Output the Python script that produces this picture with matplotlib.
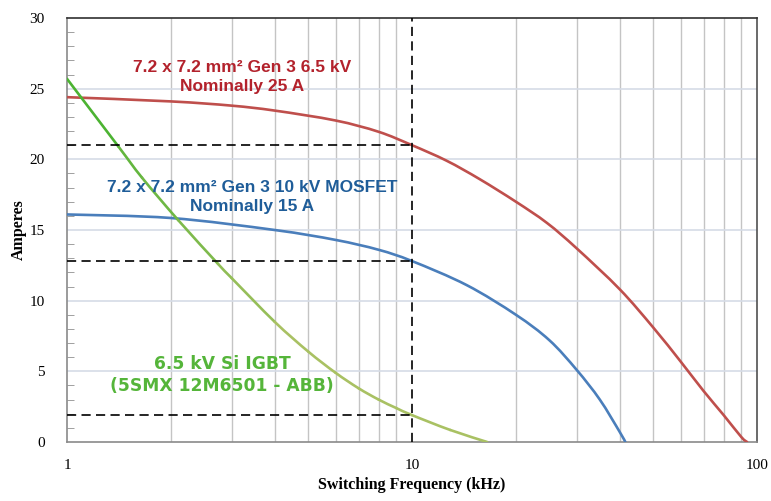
import numpy as np
import matplotlib
matplotlib.use("Agg")
import matplotlib.pyplot as plt
from matplotlib.path import Path
from matplotlib.patches import PathPatch
from matplotlib.colors import to_rgb
from matplotlib.ticker import FixedLocator, FixedFormatter, NullFormatter, MultipleLocator

# current derating vs switching frequency (kHz, A)
red_f = [1, 2, 3, 4, 6, 8, 10, 12.6, 15.7, 20, 24.6, 30, 40, 50, 60, 70, 80, 90, 93.5]
red_i = [24.4, 24.1, 23.8, 23.45, 22.75, 21.95, 21.0, 19.9, 18.6, 17.0, 15.5, 13.7, 10.8, 8.1, 5.7, 3.6, 1.9, 0.35, 0.0]

blue_f = [1, 2, 4, 6, 8, 10, 14.4, 20, 25, 30, 35, 40, 41.5]
blue_i = [16.1, 15.85, 15.0, 14.3, 13.6, 12.8, 11.1, 9.0, 7.2, 5.1, 3.0, 0.7, 0.0]

green_f = [1, 1.41, 1.65, 2.1, 2.74, 3, 4, 5, 6, 7, 8, 9, 10, 12.9, 16.5]
green_i = [25.7, 20.9, 18.7, 15.7, 12.6, 11.6, 8.5, 6.4, 4.9, 3.8, 3.0, 2.4, 1.9, 0.85, 0.0]

f_mark = 10  # kHz reference frequency

red_c = "#bf4f4c"
blue_c = "#4a7ebb"
green_top = "#4cb332"
green_bot = "#a9c163"
H = 501  # figure height in px, text placed in pixel coords


def smooth_segments(f, i):
    """Catmull-Rom style bezier pieces through the points (in log-f space)."""
    lx = np.log10(np.array(f, dtype=float))
    y = np.array(i, dtype=float)
    p = np.column_stack([lx, y])
    n = len(p)
    segs = []
    for k in range(n - 1):
        p0 = p[max(k - 1, 0)]
        p1 = p[k]
        p2 = p[k + 1]
        p3 = p[min(k + 2, n - 1)]
        c1 = p1 + (p2 - p0) / 6.0
        c2 = p2 - (p3 - p1) / 6.0
        v = np.array([p1, c1, c2, p2])
        v[:, 0] = 10 ** v[:, 0]
        segs.append(v)
    return segs


def draw_curve(ax, f, i, color, lw=1.9):
    segs = smooth_segments(f, i)
    verts = [segs[0][0]]
    codes = [Path.MOVETO]
    for s in segs:
        verts.extend(s[1:])
        codes.extend([Path.CURVE4] * 3)
    ax.add_patch(PathPatch(Path(verts, codes), fill=False, edgecolor=color,
                           lw=lw, zorder=3, capstyle="round", joinstyle="round"))


fig = plt.figure(figsize=(7.71, 5.01), dpi=100)
ax = fig.add_axes([0.0869, 0.1178, 0.8951, 0.8462])
ax.set_xscale("log")
ax.set_xlim(1, 100)
ax.set_ylim(0, 30)

# grid
for v in [2, 3, 4, 5, 6, 7, 8, 9, 20, 30, 40, 50, 60, 70, 80, 90]:
    ax.axvline(v, color="#c4c4c4", lw=1.0, zorder=1)
for v in [5, 10, 15, 20, 25]:
    ax.axhline(v, color="#d5dce6", lw=1.2, zorder=1)

# curves
draw_curve(ax, red_f, red_i, red_c)
draw_curve(ax, blue_f, blue_i, blue_c)

# green curve shades from bright to olive along its length
c0 = np.array(to_rgb(green_top))
c1 = np.array(to_rgb(green_bot))
for s in smooth_segments(green_f, green_i):
    t = np.clip(np.log10(s[0, 0]) / np.log10(4), 0, 1)
    col = tuple(c0 + (c1 - c0) * t)
    path = Path(s, [Path.MOVETO, Path.CURVE4, Path.CURVE4, Path.CURVE4])
    ax.add_patch(PathPatch(path, fill=False, edgecolor=col, lw=1.9, zorder=3,
                           capstyle="round"))

# reference lines at 10 kHz
dash = (0, (5.5, 3.2))
for f, i in [(red_f, red_i), (blue_f, blue_i), (green_f, green_i)]:
    y10 = i[f.index(f_mark)]
    ax.plot([1, f_mark], [y10, y10], color="black", lw=1.2, ls=dash, zorder=4)
ax.plot([f_mark, f_mark], [0, 30], color="black", lw=1.2, ls=dash, zorder=4)

# labels on curves
ax.text(242, H - 77, "7.2 x 7.2 mm\u00b2 Gen 3 6.5 kV\nNominally 25 A",
        transform=None, fontsize=12.5, fontweight="bold", color="#b3222c",
        family="Liberation Sans", ha="center", va="center", linespacing=1.38)
ax.text(252, H - 197, "7.2 x 7.2 mm\u00b2 Gen 3 10 kV MOSFET\nNominally 15 A",
        transform=None, fontsize=12.5, fontweight="bold", color="#1f5d99",
        family="Liberation Sans", ha="center", va="center", linespacing=1.38)
ax.text(222, H - 375, "6.5 kV Si IGBT\n(5SMX 12M6501 - ABB)",
        transform=None, fontsize=12.3, fontweight="bold", color="#55b53a",
        family="DejaVu Sans", ha="center", va="center", linespacing=1.3)

# axes styling
ax.xaxis.set_major_locator(FixedLocator([1, 10, 100]))
ax.xaxis.set_major_formatter(FixedFormatter(["1", "10", "100"]))
ax.xaxis.set_minor_formatter(NullFormatter())
ax.tick_params(axis="x", which="both", length=0, pad=12, labelsize=11)
ax.yaxis.set_major_locator(MultipleLocator(5))
ax.yaxis.set_minor_locator(MultipleLocator(1))
ax.tick_params(axis="y", which="major", length=0, pad=16, labelsize=11)
ax.tick_params(axis="y", which="minor", direction="in", length=5, color="#909090")
for lab in ax.get_xticklabels() + ax.get_yticklabels():
    lab.set_family("Liberation Serif")

ax.spines["left"].set_color("#8a8a8a")
ax.spines["bottom"].set_color("#8a8a8a")
ax.spines["top"].set_color("#303030")
ax.spines["right"].set_color("#505050")
for s in ax.spines.values():
    s.set_linewidth(1.2)

ax.set_xlabel("Switching Frequency (kHz)", family="Liberation Serif",
              fontweight="bold", fontsize=11.5, labelpad=4)
ax.set_ylabel("Amperes", family="Liberation Serif", fontweight="bold",
              fontsize=11.5, labelpad=2)

fig.savefig("out.png", dpi=100)
